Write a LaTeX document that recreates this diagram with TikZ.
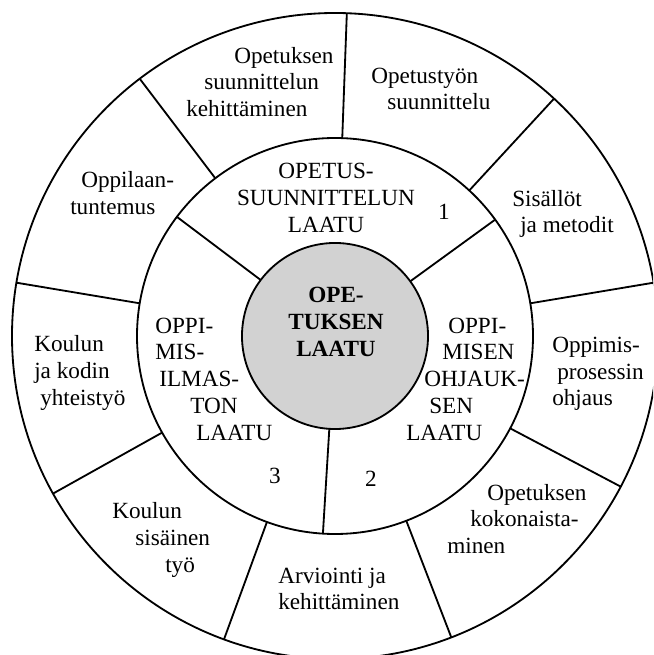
\documentclass[tikz,border=0pt]{standalone}
\usepackage{fontspec}
\setmainfont{Liberation Serif}

\begin{document}
\begin{tikzpicture}[x=0.025cm, y=0.025cm,
  ring/.style={draw, line width=1.3pt},
  txt/.style={inner sep=0pt, font=\fontsize{16.5}{19}\selectfont},
  lft/.style={txt, align=left, anchor=west}]
\useasboundingbox (-335,-319) rectangle (318,336);
\clip (-335,-319) rectangle (318,336);
% rings
\draw[ring] (0,0) circle (323);
\draw[ring] (0,0) circle (198);
\foreach \a in {87.9,47.3,9.5,-27.8,-68.9,249.9,209.2,170.5,127.2}
  \draw[ring] (\a:198) -- (\a:323);
\foreach \a in {143,36,266.5}
  \draw[ring] (\a:93) -- (\a:198);
\node[ring, circle, fill=gray!35, minimum size=4.65cm, inner sep=0pt] (core) at (0,0) {};
\node[txt, font=\fontsize{16.5}{19}\selectfont\bfseries, align=center]
  (coretext) at (1,14) {OPE-\\TUKSEN\\LAATU};
% middle ring
\node[txt, align=center] (plan) at (-9,138) {OPETUS-\\SUUNNITTELUN\\LAATU};
\node[lft] (guide) at (71,-43) {\hspace*{1.05cm}OPPI-\\\hspace*{0.9cm}MISEN\\
  \hspace*{0.45cm}OHJAUK-\\\hspace*{0.575cm}SEN\\LAATU};
\node[lft] (climate) at (-180,-43) {OPPI-\\MIS-\\\hspace*{0.1cm}ILMAS-\\
  \hspace*{0.875cm}TON\\\hspace*{1.025cm}LAATU};
\node[txt] (one) at (109,124) {1};
\node[txt] (two) at (36,-143) {2};
\node[txt] (three) at (-60,-140) {3};
% outer ring
\node[lft] (plandev) at (-149,254) {\hspace*{1.2cm}Opetuksen\\
  \hspace*{0.45cm}suunnittelun\\kehittäminen};
\node[lft] (workplan) at (36,247) {Opetustyön\\\hspace*{0.4cm}suunnittelu};
\node[lft] (contents) at (177,122) {Sisällöt\\\hspace*{0.2cm}ja metodit};
\node[lft] (process) at (217,-38) {Oppimis-\\\hspace*{0.125cm}prosessin\\ohjaus};
\node[lft] (integr) at (112,-183) {\hspace*{1cm}Opetuksen\\
  \hspace*{0.575cm}kokonaista-\\minen};
\node[lft] (assess) at (-57,-253) {Arviointi ja\\kehittäminen};
\node[lft] (school) at (-223,-204) {Koulun\\\hspace*{0.575cm}sisäinen\\
  \hspace*{1.325cm}työ};
\node[lft] (home) at (-301,-37) {Koulun\\ja kodin\\\hspace*{0.15cm}yhteistyö};
\node[lft] (pupils) at (-265,143) {\hspace*{0.275cm}Oppilaan-\\tuntemus};
\end{tikzpicture}
\end{document}
